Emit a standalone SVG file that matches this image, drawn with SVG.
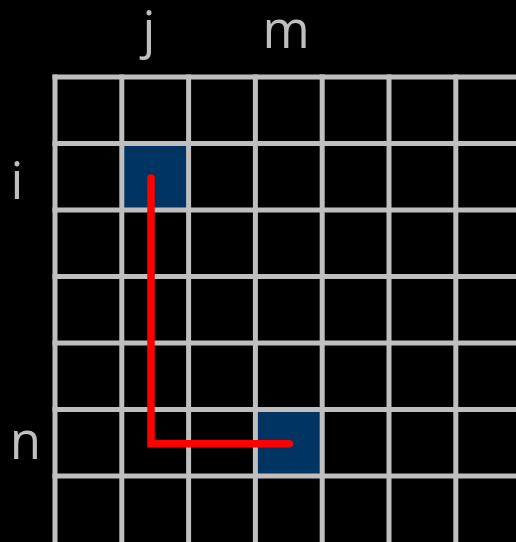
<svg xmlns="http://www.w3.org/2000/svg" width="516" height="542" viewBox="0 0 516 542">
<style>
.lbl{font-family:"Open Sans","Noto Sans",sans-serif;font-size:51px;fill:#bfbfbf;text-anchor:middle}
.grid line{stroke:#bfbfbf;stroke-width:5}
.cell{fill:#003462}
</style>
<rect width="516" height="542" fill="#000"/>
<g id="cell-ij"><rect class="cell" x="121.8" y="143.5" width="66.8" height="66.5"/></g>
<g id="cell-nm"><rect class="cell" x="255.4" y="409.5" width="66.8" height="66.5"/></g>
<g id="grid" class="grid">
<line x1="52.5" y1="77" x2="516" y2="77"/>
<line x1="52.5" y1="143.5" x2="516" y2="143.5"/>
<line x1="52.5" y1="210" x2="516" y2="210"/>
<line x1="52.5" y1="276.5" x2="516" y2="276.5"/>
<line x1="52.5" y1="343" x2="516" y2="343"/>
<line x1="52.5" y1="409.5" x2="516" y2="409.5"/>
<line x1="52.5" y1="476" x2="516" y2="476"/>
<line x1="55" y1="74.5" x2="55" y2="542"/>
<line x1="121.8" y1="74.5" x2="121.8" y2="542"/>
<line x1="188.6" y1="74.5" x2="188.6" y2="542"/>
<line x1="255.4" y1="74.5" x2="255.4" y2="542"/>
<line x1="322.2" y1="74.5" x2="322.2" y2="542"/>
<line x1="389" y1="74.5" x2="389" y2="542"/>
<line x1="455.8" y1="74.5" x2="455.8" y2="542"/>
</g>
<g id="connectors">
<path d="M151 178 L151 443.7 L289.5 443.7" fill="none" stroke="#ff0000" stroke-width="7.5" stroke-linecap="round" stroke-linejoin="miter"/>
</g>
<g id="labels">
<text class="lbl" x="149" y="48">j</text>
<text class="lbl" x="286" y="48">m</text>
<text class="lbl" x="17" y="199">i</text>
<text class="lbl" x="25.5" y="459">n</text>
</g>
</svg>
